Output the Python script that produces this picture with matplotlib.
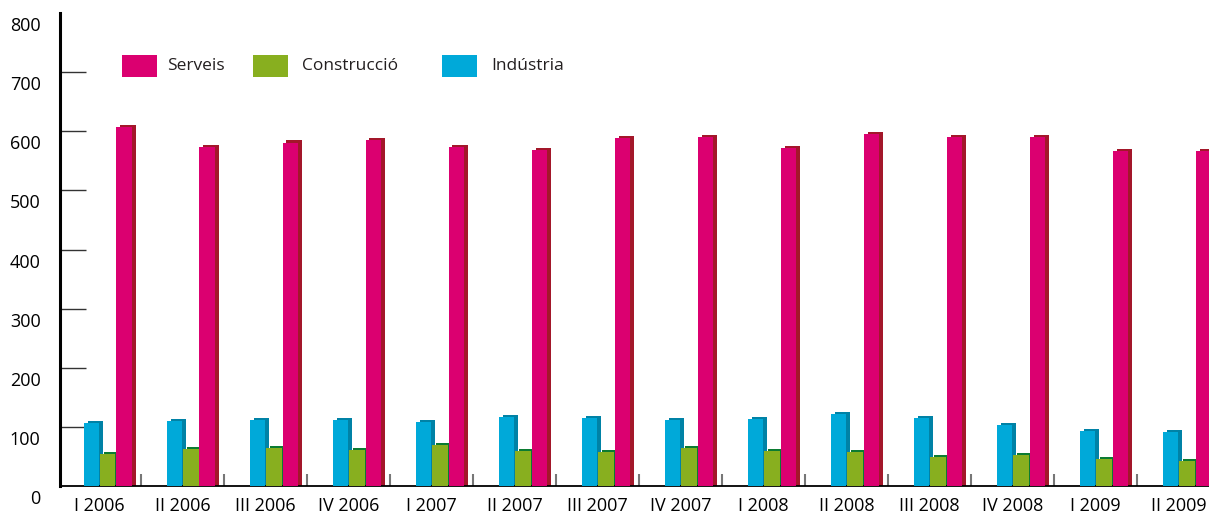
import matplotlib.pyplot as plt
import matplotlib.transforms as mtransforms
from matplotlib.patches import Rectangle
import numpy as np

plt.rcParams['font.family'] = ['Open Sans', 'DejaVu Sans']

trimestres = ['I 2006', 'II 2006', 'III 2006', 'IV 2006',
              'I 2007', 'II 2007', 'III 2007', 'IV 2007',
              'I 2008', 'II 2008', 'III 2008', 'IV 2008',
              'I 2009', 'II 2009']
industria = [106, 110, 111, 111, 108, 116, 115, 111, 113, 122, 115, 103, 93, 91]
construccio = [54, 62, 64, 61, 69, 59, 57, 64, 59, 57, 49, 52, 46, 42]
serveis = [608, 574, 581, 586, 574, 568, 588, 590, 571, 596, 591, 591, 566, 566]

# front colour, shadow colour
c_ind = ('#00A9D9', '#0082A6')
c_con = ('#88AF1F', '#0B7B32')
c_ser = ('#DB0070', '#A3172A')

fig = plt.figure(figsize=(12.09, 5.15), dpi=100)
ax = fig.add_axes([0.0496, 0.0563, 0.9504, 0.9184])

x = np.arange(len(trimestres))
w = 0.19
dx = 0.048   # shadow offset (category units)
dy = 3.4     # shadow offset (data units)

##### bars: shadow first, then front face
for off, vals, (cf, cs) in [(-0.097, industria, c_ind),
                            (0.098, construccio, c_con),
                            (0.300, serveis, c_ser)]:
    v = np.array(vals)
    ax.bar(x + off + dx, v + dy, width=w, color=cs, linewidth=0, zorder=2)
    ax.bar(x + off, v, width=w, color=cf, linewidth=0, zorder=3)

ax.set_xlim(-0.476, 13.367)
ax.set_ylim(0, 800)

ax.spines['top'].set_visible(False)
ax.spines['right'].set_visible(False)
ax.spines['left'].set_linewidth(2.2)
ax.spines['bottom'].set_linewidth(1.3)

##### y ticks: short inward lines, labels slightly below
ax.set_yticks(range(0, 900, 100))
ax.tick_params(axis='y', direction='in', length=19, width=1, color='#333333',
               pad=14, labelsize=13)
off = mtransforms.ScaledTranslation(0, -11 / 100, fig.dpi_scale_trans)
for lab in ax.get_yticklabels():
    lab.set_transform(lab.get_transform() + off)
ax.yaxis.get_major_ticks()[-1].tick1line.set_visible(False)
ax.yaxis.get_major_ticks()[0].tick1line.set_visible(False)

##### x ticks: labels at centres, grey separators between groups
ax.set_xticks(x)
ax.set_xticklabels(trimestres)
ax.tick_params(axis='x', which='major', length=0, pad=8, labelsize=13)
ax.set_xticks(x[:-1] + 0.5, minor=True)
ax.tick_params(axis='x', which='minor', direction='in', length=9, width=1.5,
               color='#777777')

##### legend drawn by hand
items = [('Serveis', c_ser[0], 122, 167),
         ('Construcció', c_con[0], 253, 302),
         ('Indústria', c_ind[0], 442, 491)]
for name, col, bx, tx in items:
    fig.patches.append(Rectangle((bx / 1209, 1 - 77 / 515), 35 / 1209, 22 / 515,
                                 transform=fig.transFigure, color=col, linewidth=0))
    fig.text(tx / 1209, 1 - 66 / 515, name, fontsize=12.5, color='#231F20',
             va='center', ha='left')

plt.savefig('out.png', dpi=100)
